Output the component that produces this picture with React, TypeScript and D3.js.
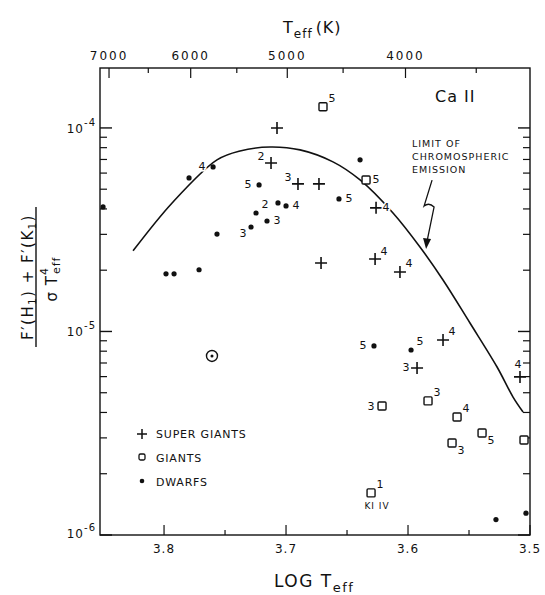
import React from 'react';
import * as d3 from 'd3';

const W = 545;
const H = 595;
const LEFT = 100, RIGHT = 530, TOP = 68, BOTTOM = 535;

// x domain is log Teff (reversed), y is the flux ratio (log scale)
const LOG_T_DOMAIN = [3.8525, 3.5];
const RATIO_DOMAIN = [1e-6, 1.97e-4];

const bottomTicks = [3.8, 3.75, 3.7, 3.65, 3.6, 3.55, 3.5];
const bottomLabels = [3.8, 3.7, 3.6, 3.5];
const topTicks = [7000, 6500, 6000, 5500, 5000, 4500, 4000, 3500];
const topLabels = [7000, 6000, 5000, 4000];
const decades = [-6, -5, -4];

// [log Teff, ratio, luminosity class, label side]
const superGiants: [number, number, string, string][] = [
  [3.7074, 1.0e-4, '', ''],
  [3.7123, 6.73e-5, '2', 'ul'],
  [3.6902, 5.31e-5, '3', 'ul'],
  [3.673, 5.31e-5, '', ''],
  [3.6713, 2.17e-5, '', ''],
  [3.6262, 4.05e-5, '4', 'r'],
  [3.627, 2.27e-5, '4', 'ur'],
  [3.6066, 1.96e-5, '4', 'ur'],
  [3.5713, 9.08e-6, '4', 'ur'],
  [3.5926, 6.62e-6, '3', 'l'],
  [3.5082, 5.98e-6, '4', 'u'],
];

const giants: [number, number, string, string][] = [
  [3.6697, 1.27e-4, '5', 'ur'],
  [3.6344, 5.55e-5, '5', 'r'],
  [3.6213, 4.3e-6, '3', 'l'],
  [3.5836, 4.56e-6, '3', 'ur'],
  [3.5598, 3.8e-6, '4', 'ur'],
  [3.5639, 2.83e-6, '3', 'dr'],
  [3.5393, 3.17e-6, '5', 'dr'],
  [3.5049, 2.93e-6, '', ''],
  [3.6303, 1.61e-6, '1', 'ur'],
];

const dwarfs: [number, number, string, string][] = [
  [3.85, 4.09e-5, '', ''],
  [3.7795, 5.68e-5, '', ''],
  [3.7598, 6.43e-5, '4', 'l'],
  [3.7566, 3.01e-5, '', ''],
  [3.7984, 1.92e-5, '', ''],
  [3.7918, 1.92e-5, '', ''],
  [3.7713, 2.01e-5, '', ''],
  [3.7221, 5.25e-5, '5', 'l'],
  [3.7246, 3.82e-5, '2', 'ur'],
  [3.7156, 3.49e-5, '3', 'r'],
  [3.7287, 3.26e-5, '3', 'dl'],
  [3.7066, 4.28e-5, '', ''],
  [3.7, 4.14e-5, '4', 'r'],
  [3.6566, 4.48e-5, '5', 'r'],
  [3.6393, 6.97e-5, '', ''],
  [3.6279, 8.49e-6, '5', 'l'],
  [3.5975, 8.11e-6, '5', 'ur'],
  [3.5279, 1.19e-6, '', ''],
  [3.5033, 1.28e-6, '', ''],
];

const sun: [number, number] = [3.7607, 7.58e-6];

// limit of chromospheric emission
const limitCurve: [number, number][] = [
  [3.8254, 2.49e-5],
  [3.7934, 4.28e-5],
  [3.7566, 6.97e-5],
  [3.7377, 7.71e-5],
  [3.7131, 8.06e-5],
  [3.6885, 7.8e-5],
  [3.6615, 6.81e-5],
  [3.6393, 5.55e-5],
  [3.6123, 3.82e-5],
  [3.5902, 2.6e-5],
  [3.5713, 1.79e-5],
  [3.5492, 1.1e-5],
  [3.527, 6.69e-6],
  [3.5139, 4.76e-6],
  [3.5057, 4.02e-6],
];

const arrowTip: [number, number] = [3.5852, 2.54e-5];

const LABEL_OFFSET: Record<string, [number, number]> = {
  r: [10, 0],
  ur: [9, -8],
  ul: [-10, -6],
  l: [-11, 0],
  dl: [-8, 6],
  dr: [9, 7],
  u: [-2, -12],
};

const FONT = '"DejaVu Sans", sans-serif';

export default function App() {
  const x = d3.scaleLinear().domain(LOG_T_DOMAIN).range([LEFT, RIGHT]);
  const y = d3.scaleLog().domain(RATIO_DOMAIN).range([BOTTOM, TOP]);

  const line = d3
    .line<[number, number]>()
    .x((d) => x(d[0]))
    .y((d) => y(d[1]))
    .curve(d3.curveCatmullRom);

  const minor: number[] = [];
  decades.forEach((p) => {
    for (let k = 2; k <= 9; k++) {
      const v = k * Math.pow(10, p);
      if (v <= RATIO_DOMAIN[1]) minor.push(v);
    }
  });

  const label = (px: number, py: number, txt: string, side: string, key: string) => {
    if (!txt) return null;
    const [dx, dy] = LABEL_OFFSET[side];
    return (
      <text
        key={key}
        x={px + dx}
        y={py + dy}
        textAnchor="middle"
        dominantBaseline="central"
        fontSize={11}
        stroke="#fff"
        strokeWidth={3}
        paintOrder="stroke"
        fill="#111"
      >
        {txt}
      </text>
    );
  };

  const tx = x(arrowTip[0]);
  const ty = y(arrowTip[1]);

  return (
    <svg
      width={W}
      height={H}
      style={{ position: 'absolute', left: 0, top: 0, background: '#fff' }}
      fontFamily={FONT}
    >
      <rect width={W} height={H} fill="#fff" />
      {/* frame */}
      <rect x={LEFT} y={TOP} width={RIGHT - LEFT} height={BOTTOM - TOP} fill="none" stroke="#111" strokeWidth={1.4} />

      {/* left & right ticks */}
      {decades.map((p) => {
        const yy = y(Math.pow(10, p));
        return (
          <g key={'dec' + p}>
            <line x1={LEFT} x2={LEFT + 12} y1={yy} y2={yy} stroke="#111" strokeWidth={1.4} />
            <line x1={RIGHT} x2={RIGHT - 12} y1={yy} y2={yy} stroke="#111" strokeWidth={1.4} />
            <text x={96} y={p === -6 ? yy + 3 : yy + 5} textAnchor="end" fontSize={12} letterSpacing={1} fill="#111">
              10
              <tspan dy={-7} fontSize={10}>
                -{-p}
              </tspan>
            </text>
          </g>
        );
      })}
      {minor.map((v) => (
        <g key={'m' + v}>
          <line x1={LEFT} x2={LEFT + 7} y1={y(v)} y2={y(v)} stroke="#111" strokeWidth={1.2} />
          <line x1={RIGHT} x2={RIGHT - 7} y1={y(v)} y2={y(v)} stroke="#111" strokeWidth={1.2} />
        </g>
      ))}

      {/* bottom axis */}
      {bottomTicks.map((t) => {
        const major = bottomLabels.includes(t);
        return (
          <line key={'b' + t} x1={x(t)} x2={x(t)} y1={BOTTOM} y2={BOTTOM - (major ? 10 : 5)} stroke="#111" strokeWidth={1.2} />
        );
      })}
      {bottomLabels.map((t) => (
        <text key={'bl' + t} x={x(t)} y={553} textAnchor="middle" fontSize={12} letterSpacing={1} fill="#111">
          {t.toFixed(1)}
        </text>
      ))}

      {/* top axis in Teff */}
      {topTicks.map((t) => {
        const major = topLabels.includes(t);
        const xx = x(Math.log10(t));
        return <line key={'t' + t} x1={xx} x2={xx} y1={TOP} y2={TOP + (major ? 10 : 5)} stroke="#111" strokeWidth={1.2} />;
      })}
      {topLabels.map((t) => (
        <text key={'tl' + t} x={x(Math.log10(t))} y={60} textAnchor="middle" fontSize={12} letterSpacing={2} fill="#111">
          {t}
        </text>
      ))}

      {/* titles */}
      <text x={283} y={33} fontSize={16} letterSpacing={1} fill="#111">
        T<tspan dy={5} fontSize={12}>eff</tspan>
        <tspan dy={-5} dx={3}>(K)</tspan>
      </text>
      <text x={274} y={587} fontSize={17} letterSpacing={1.5} fill="#111">
        LOG T<tspan dy={5} fontSize={13}>eff</tspan>
      </text>
      <text x={435} y={102} fontSize={16} letterSpacing={1} fill="#111">
        Ca II
      </text>

      {/* y axis title (fraction) */}
      <g transform="translate(36,277) rotate(-90)" fill="#111">
        <text x={0} y={-3} textAnchor="middle" fontSize={15} letterSpacing={1.5}>
          F′(H<tspan dy={3} fontSize={10}>1</tspan>
          <tspan dy={-3}>) + F′(K</tspan>
          <tspan dy={3} fontSize={10}>1</tspan>
          <tspan dy={-3}>)</tspan>
        </text>
        <line x1={-70} x2={70} y1={0} y2={0} stroke="#111" strokeWidth={1.4} />
        <text x={-2} y={21} textAnchor="middle" fontSize={15} letterSpacing={1}>
          σ T<tspan dy={-9} fontSize={11}>4</tspan>
          <tspan dx={-7} dy={12} fontSize={11}>eff</tspan>
        </text>
      </g>

      {/* limit curve */}
      <path d={line(limitCurve) || ''} fill="none" stroke="#111" strokeWidth={1.6} />

      {/* annotation */}
      <g fill="#111" fontSize={9.5} letterSpacing={1}>
        <text x={412} y={147}>LIMIT OF</text>
        <text x={412} y={160}>CHROMOSPHERIC</text>
        <text x={412} y={173}>EMISSION</text>
      </g>
      <path
        d={`M${tx + 6},${ty - 69} L${tx - 2},${ty - 43} Q${tx + 3},${ty - 47} ${tx + 8},${ty - 42} L${tx + 1},${ty - 8}`}
        fill="none"
        stroke="#111"
        strokeWidth={1.3}
      />
      <path d={`M${tx},${ty} L${tx - 3},${ty - 11} L${tx + 5},${ty - 10} Z`} fill="#111" />

      {/* super giants */}
      {superGiants.map((d, i) => {
        const px = x(d[0]);
        const py = y(d[1]);
        return (
          <g key={'sg' + i}>
            <path d={`M${px - 6},${py} H${px + 6} M${px},${py - 6} V${py + 6}`} stroke="#111" strokeWidth={1.6} />
            {label(px, py, d[2], d[3], 'sgl' + i)}
          </g>
        );
      })}

      {/* giants */}
      {giants.map((d, i) => {
        const px = x(d[0]);
        const py = y(d[1]);
        return (
          <g key={'g' + i}>
            <rect x={px - 4} y={py - 4} width={8} height={8} rx={1} fill="#fff" stroke="#111" strokeWidth={1.4} />
            {label(px, py, d[2], d[3], 'gl' + i)}
          </g>
        );
      })}
      {(() => {
        const g = giants[giants.length - 1];
        return (
          <text x={x(g[0]) + 6} y={y(g[1]) + 16} textAnchor="middle" fontSize={9} letterSpacing={1} fill="#111">
            KI IV
          </text>
        );
      })()}

      {/* dwarfs */}
      {dwarfs.map((d, i) => {
        const px = x(d[0]);
        const py = y(d[1]);
        return (
          <g key={'d' + i}>
            <circle cx={px} cy={py} r={2.6} fill="#111" />
            {label(px, py, d[2], d[3], 'dl' + i)}
          </g>
        );
      })}

      {/* sun */}
      <circle cx={x(sun[0])} cy={y(sun[1])} r={5.5} fill="none" stroke="#111" strokeWidth={1.4} />
      <circle cx={x(sun[0])} cy={y(sun[1])} r={1.5} fill="#111" />

      {/* legend */}
      <g fill="#111" fontSize={11} letterSpacing={0.8}>
        <path d="M137,434 H147 M142,429 V439" stroke="#111" strokeWidth={1.5} />
        <text x={156} y={438}>SUPER GIANTS</text>
        <rect x={139} y={454} width={6} height={6} rx={1.5} fill="none" stroke="#111" strokeWidth={1.3} />
        <text x={156} y={462}>GIANTS</text>
        <circle cx={142} cy={481} r={2.3} />
        <text x={156} y={486}>DWARFS</text>
      </g>
    </svg>
  );
}
